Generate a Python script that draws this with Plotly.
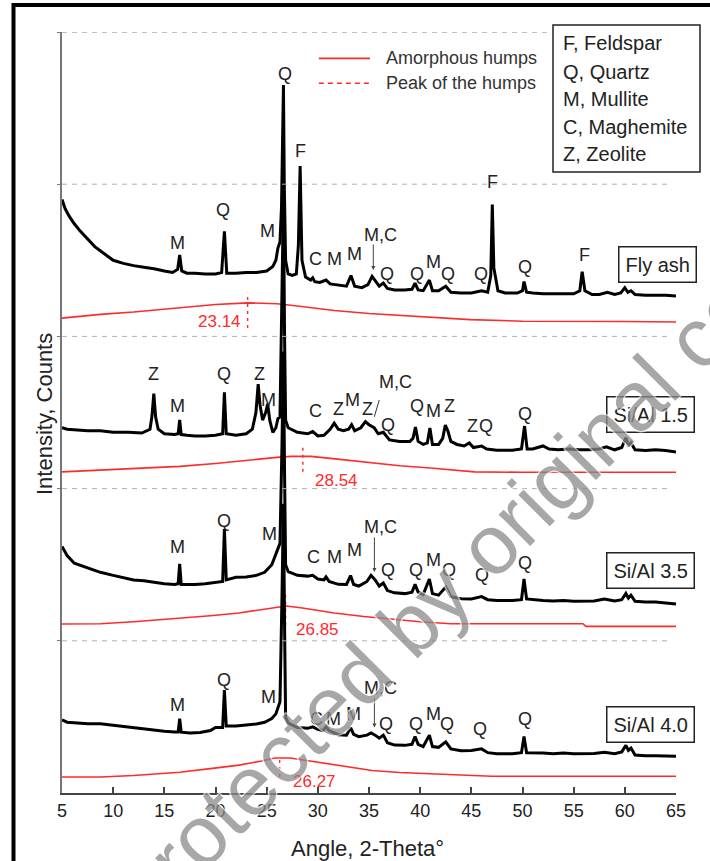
import plotly.graph_objects as go

# ---------------- data ----------------
fa_x = [5.0, 5.3, 5.7, 6.2, 6.8, 7.5, 8.2, 9.0, 10.0, 11.0, 12.0, 13.0, 14.0, 15.0, 15.8, 16.3, 16.5, 16.7, 17.2, 18.0,
        19.0, 20.0, 20.6, 20.87, 21.1, 22.0, 23.0, 24.0, 25.0, 25.6, 25.9, 26.1, 26.3, 26.45, 26.55, 26.64, 26.72, 26.85,
        27.1, 27.5, 27.9, 28.1, 28.27, 28.45, 28.8, 29.3, 29.5, 29.7, 30.2, 30.8, 31.2, 32.0, 32.8, 33.24, 33.6, 34.3,
        34.9, 35.3, 35.6, 36.0, 36.4, 36.8, 37.5, 38.5, 39.2, 39.5, 39.8, 40.3, 40.9, 41.2, 41.8, 42.5, 43.0, 44.0, 45.0,
        46.0, 46.6, 46.9, 47.05, 47.2, 47.6, 48.3, 49.5, 50.0, 50.15, 50.4, 51.0, 52.0, 53.0, 54.0, 55.0, 55.6, 55.83,
        56.1, 56.8, 57.5, 58.3, 59.0, 59.6, 60.0, 60.3, 60.6, 61.0, 62.0, 63.0, 64.0, 65.0]
fa_y = [3.90, 3.84, 3.79, 3.74, 3.69, 3.64, 3.59, 3.55, 3.50, 3.48, 3.465, 3.455, 3.445, 3.43, 3.42, 3.44, 3.535, 3.43,
        3.415, 3.415, 3.41, 3.41, 3.42, 3.69, 3.415, 3.415, 3.42, 3.42, 3.43, 3.46, 3.50, 3.58, 3.62, 3.85, 4.25, 4.652,
        4.0, 3.50, 3.41, 3.40, 3.41, 3.60, 4.12, 3.50, 3.39, 3.37, 3.385, 3.36, 3.355, 3.37, 3.345, 3.335, 3.33, 3.40,
        3.33, 3.32, 3.34, 3.395, 3.37, 3.33, 3.35, 3.315, 3.305, 3.305, 3.31, 3.35, 3.305, 3.30, 3.37, 3.30, 3.30, 3.33,
        3.29, 3.285, 3.285, 3.30, 3.29, 3.40, 3.866, 3.45, 3.30, 3.285, 3.285, 3.30, 3.36, 3.29, 3.285, 3.28, 3.28, 3.28,
        3.28, 3.30, 3.425, 3.30, 3.275, 3.275, 3.29, 3.275, 3.285, 3.32, 3.29, 3.30, 3.275, 3.27, 3.27, 3.27, 3.265]

s15_x = [5.0, 5.5, 6.5, 7.5, 8.75, 10.0, 11.5, 12.8, 13.6, 13.8, 13.97, 14.15, 14.4, 15.0, 16.0, 16.35, 16.5, 16.65,
         17.2, 18.0, 19.0, 20.0, 20.7, 20.87, 21.05, 22.0, 23.0, 23.6, 23.95, 24.17, 24.35, 24.6, 24.9, 25.1, 25.3,
         25.6, 25.9, 26.1, 26.3, 26.5, 26.64, 26.75, 26.85, 27.1, 28.0, 29.0, 29.5, 30.0, 30.6, 31.2, 31.6, 32.0, 32.5,
         33.0, 33.3, 33.6, 34.2, 34.65, 35.0, 35.5, 35.9, 36.4, 37.0, 38.0, 39.0, 39.3, 39.54, 39.8, 40.3, 40.7, 40.95,
         41.2, 41.8, 42.2, 42.46, 42.7, 43.0, 43.6, 44.3, 44.8, 45.2, 46.0, 46.5, 47.5, 49.0, 49.9, 50.2, 50.45, 51.0,
         52.0, 52.6, 53.5, 54.5, 55.5, 56.5, 57.5, 58.2, 59.0, 59.7, 60.1, 60.35, 60.6, 61.0, 62.0, 63.0, 64.0, 65.0]
s15_y = [2.40, 2.39, 2.385, 2.38, 2.38, 2.37, 2.37, 2.365, 2.39, 2.48, 2.624, 2.47, 2.39, 2.36, 2.355, 2.36, 2.451,
         2.355, 2.35, 2.345, 2.345, 2.35, 2.36, 2.633, 2.36, 2.35, 2.36, 2.39, 2.50, 2.687, 2.55, 2.45, 2.50, 2.557,
         2.45, 2.37, 2.40, 2.46, 2.47, 3.2, 3.9, 3.0, 2.45, 2.40, 2.37, 2.36, 2.375, 2.346, 2.35, 2.39, 2.43, 2.39,
         2.38, 2.39, 2.42, 2.38, 2.40, 2.44, 2.42, 2.40, 2.36, 2.37, 2.32, 2.31, 2.31, 2.33, 2.405, 2.31, 2.29, 2.30,
         2.398, 2.29, 2.29, 2.33, 2.417, 2.38, 2.31, 2.29, 2.28, 2.30, 2.27, 2.28, 2.26, 2.252, 2.252, 2.26, 2.411,
         2.26, 2.26, 2.28, 2.26, 2.255, 2.26, 2.255, 2.255, 2.26, 2.275, 2.255, 2.27, 2.334, 2.28, 2.30, 2.255, 2.25,
         2.255, 2.25, 2.24]

s35_x = [5.0, 5.5, 6.2, 7.1, 8.0, 8.75, 10.0, 11.0, 12.0, 13.0, 14.0, 15.0, 16.0, 16.35, 16.5, 16.65, 17.3, 18.0, 19.0,
         20.0, 20.7, 20.87, 21.05, 22.0, 23.0, 24.0, 24.8, 25.5, 25.9, 26.1, 26.3, 26.5, 26.64, 26.75, 26.85, 27.1,
         28.0, 29.0, 29.5, 30.0, 30.6, 30.8, 31.1, 32.0, 32.8, 33.2, 33.5, 34.0, 34.8, 35.2, 35.6, 36.0, 36.4, 36.8,
         37.5, 38.5, 39.2, 39.5, 39.8, 40.3, 40.9, 41.2, 41.8, 42.5, 43.0, 44.0, 45.0, 46.0, 46.6, 47.5, 49.0, 49.9,
         50.15, 50.4, 51.0, 52.0, 53.0, 54.0, 55.0, 56.0, 57.0, 58.0, 59.0, 59.7, 60.1, 60.35, 60.6, 61.0, 62.0, 63.0,
         64.0, 65.0]
s35_y = [1.62, 1.56, 1.51, 1.487, 1.465, 1.45, 1.43, 1.415, 1.40, 1.395, 1.385, 1.375, 1.37, 1.375, 1.505, 1.37, 1.37,
         1.37, 1.375, 1.383, 1.39, 1.735, 1.40, 1.417, 1.42, 1.43, 1.45, 1.50, 1.57, 1.617, 1.64, 2.3, 2.9, 2.1, 1.50,
         1.455, 1.43, 1.425, 1.43, 1.406, 1.40, 1.42, 1.39, 1.371, 1.37, 1.429, 1.37, 1.36, 1.39, 1.43, 1.40, 1.36,
         1.38, 1.33, 1.315, 1.31, 1.32, 1.371, 1.32, 1.305, 1.406, 1.31, 1.30, 1.353, 1.29, 1.277, 1.275, 1.29, 1.27,
         1.265, 1.265, 1.27, 1.406, 1.275, 1.27, 1.265, 1.262, 1.265, 1.26, 1.26, 1.262, 1.275, 1.262, 1.27, 1.311,
         1.28, 1.30, 1.26, 1.255, 1.255, 1.25, 1.242]

s40_x = [5.0, 5.5, 6.5, 7.5, 8.75, 10.0, 11.0, 12.0, 13.0, 14.0, 15.0, 16.0, 16.35, 16.5, 16.65, 17.5, 18.5, 19.5, 20.0,
         20.7, 20.87, 21.05, 22.0, 23.0, 24.0, 24.8, 25.5, 25.9, 26.1, 26.3, 26.5, 26.64, 26.75, 26.85, 27.1, 28.0,
         29.0, 29.5, 30.0, 30.5, 30.8, 31.1, 32.0, 32.8, 33.2, 33.5, 34.0, 34.8, 35.2, 35.6, 36.0, 36.4, 36.8, 37.5,
         38.5, 39.2, 39.5, 39.8, 40.3, 40.9, 41.2, 41.8, 42.5, 43.0, 44.0, 45.0, 46.0, 46.6, 47.5, 49.0, 49.9, 50.15,
         50.4, 51.0, 52.0, 53.0, 54.0, 55.0, 56.0, 57.0, 58.0, 59.0, 59.7, 60.1, 60.35, 60.6, 61.0, 62.0, 63.0, 64.0,
         65.0]
s40_y = [0.48, 0.465, 0.46, 0.455, 0.455, 0.445, 0.435, 0.43, 0.42, 0.41, 0.405, 0.40, 0.40, 0.489, 0.40, 0.395, 0.398,
         0.41, 0.43, 0.43, 0.677, 0.44, 0.441, 0.447, 0.453, 0.465, 0.489, 0.52, 0.559, 0.60, 1.3, 1.9, 1.1, 0.50,
         0.46, 0.43, 0.425, 0.435, 0.418, 0.41, 0.435, 0.41, 0.383, 0.38, 0.43, 0.385, 0.37, 0.38, 0.394, 0.38, 0.36,
         0.38, 0.33, 0.315, 0.313, 0.32, 0.371, 0.32, 0.305, 0.38, 0.305, 0.30, 0.336, 0.29, 0.277, 0.28, 0.29, 0.265,
         0.258, 0.258, 0.265, 0.371, 0.265, 0.262, 0.262, 0.258, 0.262, 0.258, 0.258, 0.26, 0.268, 0.258, 0.27, 0.313,
         0.28, 0.295, 0.25, 0.245, 0.245, 0.245, 0.242]

# amorphous humps
fa_hx = [5, 8.75, 12, 16, 20, 23.2, 26, 28, 31.6, 35, 39.1, 44.9, 50, 55, 60, 65]
fa_hy = [3.12, 3.145, 3.16, 3.185, 3.21, 3.22, 3.215, 3.20, 3.17, 3.15, 3.134, 3.11, 3.10, 3.10, 3.098, 3.095]
s15_hx = [5, 8.75, 12, 16.5, 20, 23.9, 26, 27.4, 28.6, 29.3, 31, 35.3, 38, 41, 45.3, 50, 55, 60, 65]
s15_hy = [2.11, 2.122, 2.13, 2.146, 2.165, 2.193, 2.205, 2.212, 2.213, 2.212, 2.20, 2.17, 2.15, 2.135, 2.11, 2.107,
          2.107, 2.107, 2.107]
s35_hx = [5, 8.75, 12, 16.5, 19.5, 22.3, 25, 26.9, 28.5, 31.6, 34.5, 37.7, 40, 43, 50, 55.9, 56.2, 65]
s35_hy = [1.11, 1.112, 1.125, 1.147, 1.165, 1.183, 1.21, 1.229, 1.215, 1.183, 1.16, 1.137, 1.125, 1.112, 1.112, 1.112,
          1.095, 1.095]
s40_hx = [5, 8.75, 12, 16.5, 19.5, 22.3, 24.5, 25.8, 27.3, 28.8, 30.6, 33, 35.3, 38, 41, 44, 47, 65]
s40_hy = [0.105, 0.105, 0.115, 0.136, 0.16, 0.183, 0.21, 0.23, 0.23, 0.215, 0.197, 0.17, 0.148, 0.135, 0.125, 0.118,
          0.11, 0.11]

# hump peak positions and labels
hump_peak_x = [23.14, 28.54, 26.85, 26.27]
hump_peak_y0 = [3.056, 2.111, 1.10, 0.105]
hump_peak_y1 = [3.286, 2.287, 1.30, 0.243]
hump_lbl_text = ["23.14", "28.54", "26.85", "26.27"]
hump_lbl_x = [20.36, 31.8, 30.0, 29.65]
hump_lbl_y = [3.097, 2.05, 1.076, 0.078]

# phase labels
fa_lbl_t = ["Q", "F", "M", "Q", "M", "C", "M", "M", "M,C", "Q", "Q", "M", "Q", "Q", "F", "Q", "F"]
fa_lbl_x = [26.78, 28.34, 16.32, 20.77, 25.08, 29.8, 31.6, 33.6, 36.1, 36.77, 39.7, 41.33, 42.7, 45.9, 47.1, 50.2, 56.03]
fa_lbl_y = [4.724, 4.22, 3.611, 3.83, 3.69, 3.508, 3.508, 3.54, 3.666, 3.41, 3.41, 3.491, 3.41, 3.41, 4.017, 3.458, 3.535]

s15_lbl_t = ["Z", "M", "Q", "Z", "M", "C", "Z", "M", "Z", "M,C", "Q", "Q", "M", "Z", "Z", "Q", "Q"]
s15_lbl_x = [13.97, 16.29, 20.87, 24.3, 25.2, 29.78, 31.99, 33.43, 34.84, 37.62, 36.86, 39.68, 41.33, 42.85, 45.13,
             46.39, 50.28]
s15_lbl_y = [2.75, 2.546, 2.75, 2.75, 2.585, 2.51, 2.522, 2.585, 2.522, 2.703, 2.421, 2.546, 2.51, 2.546, 2.412,
             2.412, 2.491]

s35_lbl_t = ["M", "Q", "M", "C", "M", "M", "M,C", "Q", "Q", "M", "Q", "Q", "Q"]
s35_lbl_x = [16.29, 20.87, 25.32, 29.62, 31.61, 33.59, 36.1, 36.86, 39.6, 41.33, 42.85, 46.0, 50.28]
s35_lbl_y = [1.617, 1.786, 1.70, 1.551, 1.551, 1.594, 1.746, 1.465, 1.465, 1.528, 1.465, 1.434, 1.511]

s40_lbl_t = ["M", "Q", "M", "C", "M", "M", "M,C", "Q", "Q", "M", "Q", "Q", "Q"]
s40_lbl_x = [16.29, 20.87, 25.13, 29.9, 31.53, 33.51, 36.1, 36.68, 39.6, 41.33, 42.58, 45.89, 50.28]
s40_lbl_y = [0.578, 0.742, 0.63, 0.484, 0.484, 0.517, 0.689, 0.453, 0.453, 0.517, 0.453, 0.423, 0.484]

# M,C arrows (x, y_start, y_end)
arrow_x = [35.42, 35.53, 35.53]
arrow_y0 = [3.614, 1.689, 0.631]
arrow_y1 = [3.436, 1.452, 0.43]

sample_names = ["Fly ash", "Si/Al 1.5", "Si/Al 3.5", "Si/Al 4.0"]
sample_lbl_x = [63.19, 62.52, 62.52, 62.52]
sample_lbl_y = [3.471, 2.484, 1.465, 0.451]

phase_legend = ["F, Feldspar", "Q, Quartz", "M, Mullite", "C, Maghemite", "Z, Zeolite"]

x_ticks = [5, 10, 15, 20, 25, 30, 35, 40, 45, 50, 55, 60, 65]
band_lines = [1, 2, 3, 4]

# ---------------- figure ----------------
FONT = "Arial, Liberation Sans, sans-serif"
RED = "#ff2a2a"
W, H = 710, 861
L, R, T, B = 62, 34, 32, 68
pw, ph = W - L - R, H - T - B


def px2paper(px, py):
    return (px - L) / pw, (H - B - py) / ph


fig = go.Figure()

for hx, hy in [(fa_hx, fa_hy), (s15_hx, s15_hy), (s35_hx, s35_hy), (s40_hx, s40_hy)]:
    fig.add_trace(go.Scatter(x=hx, y=hy, mode="lines", line=dict(color=RED, width=1.6),
                             showlegend=False, hoverinfo="skip"))

for i in range(len(hump_peak_x)):
    fig.add_trace(go.Scatter(x=[hump_peak_x[i], hump_peak_x[i]], y=[hump_peak_y0[i], hump_peak_y1[i]],
                             mode="lines", line=dict(color=RED, width=1.4, dash="3px,4px"),
                             showlegend=False, hoverinfo="skip"))

for px_, py_ in [(s40_x, s40_y), (s35_x, s35_y), (s15_x, s15_y), (fa_x, fa_y)]:
    fig.add_trace(go.Scatter(x=px_, y=py_, mode="lines", line=dict(color="black", width=3),
                             showlegend=False, hoverinfo="skip"))

# legend lines for humps
fig.add_trace(go.Scatter(x=[30.1, 35.1], y=[4.827, 4.827], mode="lines", line=dict(color=RED, width=1.6),
                         showlegend=False, hoverinfo="skip"))
fig.add_trace(go.Scatter(x=[30.1, 35.1], y=[4.663, 4.663], mode="lines",
                         line=dict(color=RED, width=1.6, dash="5px,4px"), showlegend=False, hoverinfo="skip"))

shapes = []
for yv in band_lines:
    shapes.append(dict(type="line", xref="x", yref="y", x0=5, x1=64.5, y0=yv, y1=yv,
                       line=dict(color="#b0b0b0", width=1, dash="5px,5px")))
shapes.append(dict(type="line", xref="x", yref="y", x0=5, x1=52.8, y0=4.998, y1=4.998,
                   line=dict(color="#b0b0b0", width=1, dash="5px,5px")))
# phase legend box
bx0, by0 = px2paper(553, 172)
bx1, by1 = px2paper(700, 25)
shapes.append(dict(type="rect", xref="paper", yref="paper", x0=bx0, x1=bx1, y0=by0, y1=by1,
                   line=dict(color="#222", width=1.5), fillcolor="white", layer="above"))
# slash for M,C in Si/Al 1.5
shapes.append(dict(type="line", xref="x", yref="y", x0=36.0, y0=2.582, x1=35.52, y1=2.472,
                   line=dict(color="#333", width=1)))
# outer frame
fx0, fy1 = px2paper(13.5, 5)
shapes.append(dict(type="rect", xref="paper", yref="paper", x0=fx0, x1=1.3, y0=-0.3, y1=fy1,
                   line=dict(color="black", width=4)))

ann = []
for tx, xs, ys in [(fa_lbl_t, fa_lbl_x, fa_lbl_y), (s15_lbl_t, s15_lbl_x, s15_lbl_y),
                   (s35_lbl_t, s35_lbl_x, s35_lbl_y), (s40_lbl_t, s40_lbl_x, s40_lbl_y)]:
    for t, xv, yv in zip(tx, xs, ys):
        ann.append(dict(x=xv, y=yv, xref="x", yref="y", text=t, showarrow=False,
                        font=dict(size=18, color="#222", family=FONT), xanchor="center", yanchor="middle"))

for xv, y0, y1 in zip(arrow_x, arrow_y0, arrow_y1):
    ann.append(dict(x=xv, y=y1, ax=xv, ay=y0, xref="x", yref="y", axref="x", ayref="y", text="",
                    showarrow=True, arrowhead=2, arrowsize=0.8, arrowwidth=1, arrowcolor="#444"))

for t, xv, yv in zip(hump_lbl_text, hump_lbl_x, hump_lbl_y):
    ann.append(dict(x=xv, y=yv, xref="x", yref="y", text=t, showarrow=False,
                    font=dict(size=17, color=RED, family=FONT), xanchor="center", yanchor="middle"))

for t, xv, yv in zip(sample_names, sample_lbl_x, sample_lbl_y):
    ann.append(dict(x=xv, y=yv, xref="x", yref="y", text=t, showarrow=False,
                    font=dict(size=20, color="#222", family=FONT), xanchor="center", yanchor="middle",
                    bordercolor="#222", borderwidth=1.5, borderpad=6, bgcolor="white"))

ann.append(dict(x=36.47, y=4.827, xref="x", yref="y", text="Amorphous humps", showarrow=False,
                font=dict(size=18, color="#333", family=FONT), xanchor="left", yanchor="middle"))
ann.append(dict(x=36.47, y=4.663, xref="x", yref="y", text="Peak of the humps", showarrow=False,
                font=dict(size=18, color="#333", family=FONT), xanchor="left", yanchor="middle"))

lx, _ = px2paper(561, 0)
for i, (t, py) in enumerate(zip(phase_legend, [43, 71.5, 98.5, 126.5, 154.5])):
    _, ly = px2paper(0, py)
    ann.append(dict(x=lx, y=ly, xref="paper", yref="paper", text=t, showarrow=False,
                    font=dict(size=20, color="#222", family=FONT), xanchor="left", yanchor="middle"))

# axis titles
tx_, ty_ = px2paper(367, 848)
ann.append(dict(x=tx_, y=ty_, xref="paper", yref="paper", text="Angle, 2-Theta°", showarrow=False,
                font=dict(size=22, color="#222", family=FONT), xanchor="center", yanchor="middle"))
yx_, yy_ = px2paper(44, 414)
ann.append(dict(x=yx_, y=yy_, xref="paper", yref="paper", text="Intensity, Counts", showarrow=False,
                textangle=-90, font=dict(size=22, color="#222", family=FONT), xanchor="center", yanchor="middle"))

# watermark
wx, wy = px2paper(525, 510)
ann.append(dict(x=wx, y=wy, xref="paper", yref="paper", text="protected by original copyright", showarrow=False,
                textangle=-45, opacity=0.75,
                font=dict(size=84, color="#8a8a8a", family=FONT,
                          shadow="1px 1px 1px white, -1px -1px 1px white, 1px -1px 1px white, -1px 1px 1px white"),
                xanchor="center", yanchor="middle"))

fig.update_layout(
    width=W, height=H,
    margin=dict(l=L, r=R, t=T, b=B, autoexpand=False),
    paper_bgcolor="white", plot_bgcolor="white",
    font=dict(family=FONT, color="#222"),
    shapes=shapes, annotations=ann,
    xaxis=dict(range=[5, 65], tickvals=x_ticks, ticks="inside", ticklen=6, tickwidth=1.5, tickcolor="#444",
               showline=True, linecolor="#444", linewidth=2, showgrid=False, zeroline=False,
               tickfont=dict(size=18, color="#222", family=FONT)),
    yaxis=dict(range=[0, 5], tickvals=[1, 2, 3, 4, 5], ticks="outside", ticklen=3, tickcolor="#777",
               showticklabels=False, showline=True, linecolor="#777", linewidth=2, showgrid=False,
               zeroline=False),
)

fig.write_html("out.html", config={"displayModeBar": False},
               post_script="document.body.style.margin='0';")
